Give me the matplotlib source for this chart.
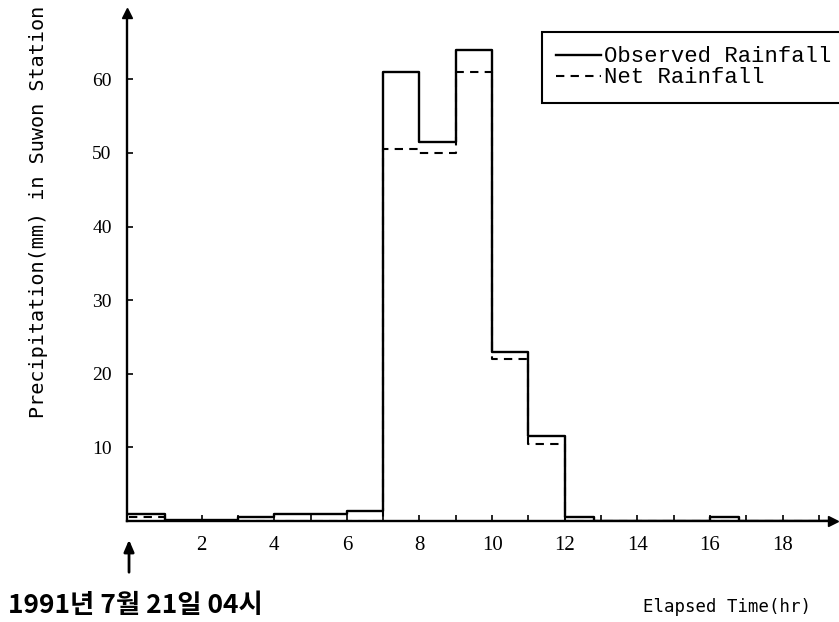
import matplotlib
matplotlib.use('Agg')
import matplotlib.pyplot as plt

# 시간(hr) 구간 경계와 각 구간의 강우량(mm)
time_edges = [0, 1, 2, 3, 4, 5, 6, 7, 8, 9, 10, 11, 12, 12.8, 16, 16.8, 19.4]
observed = [1.0, 0.2, 0.1, 0.6, 0.9, 0.9, 1.3, 61, 51.5, 64, 23, 11.5, 0.5, 0, 0.5, 0]
net = [0.6, 0, 0, 0, 0, 0, 0, 50.5, 50, 61, 22, 10.5, 0, 0, 0, 0]

x_major = [2, 4, 6, 8, 10, 12, 14, 16, 18]
x_minor = list(range(1, 20))
y_ticks = [10, 20, 30, 40, 50, 60]

fig = plt.figure(figsize=(8.39, 6.22), dpi=100)
ax = fig.add_axes([0.1514, 0.1624, 0.8415, 0.8167])

ax.step(time_edges, net + [net[-1]], where='post', color='black', lw=1.5,
        linestyle=(0, (4, 3)), label='Net Rainfall', zorder=2)
ax.step(time_edges, observed + [observed[-1]], where='post', color='black', lw=1.7,
        label='Observed Rainfall', zorder=3)

ax.set_xlim(-0.055, 19.39)
ax.set_ylim(0, 69)

for s in ['top', 'right']:
    ax.spines[s].set_visible(False)
for s in ['left', 'bottom']:
    ax.spines[s].set_linewidth(1.7)
ax.plot(1, 0, '>k', transform=ax.transAxes, clip_on=False, markersize=7)
ax.plot(0, 1, '^k', transform=ax.transAxes, clip_on=False, markersize=7)

ax.set_xticks(x_major)
ax.set_xticks(x_minor, minor=True)
ax.set_yticks(y_ticks)
ax.tick_params(axis='both', which='both', direction='in', length=4, width=1.2)
ax.tick_params(axis='x', pad=11)
ax.tick_params(axis='y', pad=11)
for lab in ax.get_xticklabels():
    lab.set_fontfamily('Liberation Serif')
    lab.set_fontsize(15)
for lab in ax.get_yticklabels():
    lab.set_fontfamily('Liberation Serif')
    lab.set_fontsize(14)

handles, labels = ax.get_legend_handles_labels()
leg = ax.legend(handles[::-1], labels[::-1], loc='upper left',
                bbox_to_anchor=(0.646, 0.9486), bbox_transform=fig.transFigure,
                prop={'family': 'Liberation Mono', 'size': 16},
                frameon=True, fancybox=False, framealpha=1, edgecolor='black',
                handlelength=2.0, handletextpad=0.15, labelspacing=0.0,
                borderpad=0.65, borderaxespad=0)
leg.get_frame().set_linewidth(1.5)

fig.text(0.0453, 0.66, 'Precipitation(mm) in Suwon Station', rotation=90,
         ha='center', va='center', family='DejaVu Sans Mono', fontsize=14.5)
fig.text(0.8665, 0.0241, 'Elapsed Time(hr)', ha='center', va='center',
         family='DejaVu Sans Mono', fontsize=12.5)
fig.text(0.0095, 0.0273, '1991년 7월 21일 04시', ha='left', va='center',
         family=['Noto Sans CJK KR', 'DejaVu Sans'], fontweight='bold', fontsize=19)

ax.annotate('', xy=(0, 85), xytext=(0, 47), xycoords=('data', 'figure pixels'),
            textcoords=('data', 'figure pixels'),
            arrowprops=dict(arrowstyle='-|>,head_width=0.3,head_length=0.7',
                            lw=2, color='black'))

fig.savefig('out.png', dpi=100)
